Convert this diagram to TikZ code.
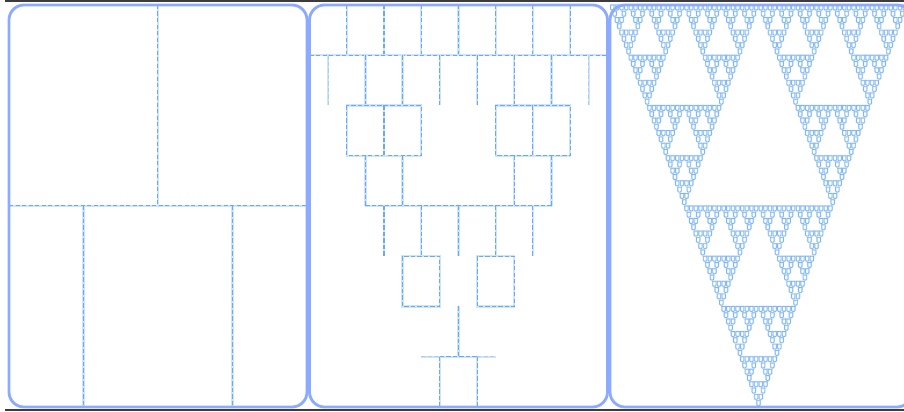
\documentclass[tikz,border=0pt]{standalone}
\usepackage{tikz}
\usetikzlibrary{positioning}
\definecolor{FrameBlue}{RGB}{140,170,255}
\definecolor{CellBlue}{RGB}{110,170,235}
\definecolor{CellPale}{RGB}{205,228,250}
\definecolor{RuleGray}{RGB}{60,60,60}
\tikzset{
  frame/.style={draw=FrameBlue,line width=1.6pt,rounded corners=0.3cm},
  cell/.style={draw=CellBlue,line width=0.6pt,dash pattern=on 2.5pt off 1.2pt,
    preaction={draw=CellPale,line width=1.3pt,solid}},
  faint/.style={cell,opacity=0.35},
  cup/.style={draw=CellBlue!85,line width=0.4pt,line join=round,rounded corners=0.6pt,
    preaction={draw=CellPale,line width=0.9pt}},
  rule/.style={draw=RuleGray,line width=0.6pt},
}
\newcommand\sierpinski[4]{% x, y, width, depth
  \ifnum#4=0\relax
    \draw[cup] (#1,#2) -- ++(#3,0) ++(-0.12*#3,0) -- ++(0,0.8*#3) -- ++(-0.76*#3,0) -- ++(0,-0.8*#3);
  \else
    \begingroup
    \pgfmathsetmacro\hw{#3/2}%
    \pgfmathsetmacro\xb{#1+#3/2}%
    \pgfmathsetmacro\xc{#1+#3/4}%
    \pgfmathsetmacro\yc{#2+#3/2}%
    \edef\next{%
      \noexpand\sierpinski{#1}{#2}{\hw}{\the\numexpr#4-1\relax}%
      \noexpand\sierpinski{\xb}{#2}{\hw}{\the\numexpr#4-1\relax}%
      \noexpand\sierpinski{\xc}{\yc}{\hw}{\the\numexpr#4-1\relax}}%
    \expandafter\endgroup\next
  \fi}

\begin{document}
\begin{tikzpicture}[x=0.02cm,y=-0.02cm]
\useasboundingbox (0,0) rectangle (904,412);
\clip (0,0) rectangle (904,412);
\draw[rule] (5,1) -- (904,1);
\draw[rule] (5,410) -- (904,410);

\begin{scope}[shift={(9,5)},x=0.3725cm,y=-1.005cm]
\draw[cell] (8,0) -- (8,4);
\draw[cell] (0,4) -- (16,4);
\draw[cell] (4,4) -- (4,8);
\draw[cell] (12,4) -- (12,8);
\end{scope}

\begin{scope}[shift={(309.5,5)},x=0.3725cm,y=-1.005cm]
\foreach \c in {2,4,...,14} \draw[cell] (\c,0) -- (\c,1);
\draw[cell] (0,1) -- (16,1);
\foreach \c in {3,5,...,13} \draw[cell] (\c,1) -- (\c,2);
\foreach \c in {1,15} \draw[faint] (\c,1) -- (\c,2);
\foreach \a in {2,10} {
  \draw[cell] (\a,2) rectangle (\a+4,3);
  \draw[cell] (\a+2,2) -- (\a+2,3);
}
\foreach \c in {3,5,11,13} \draw[cell] (\c,3) -- (\c,4);
\draw[cell] (3,4) -- (13,4);
\foreach \c in {4,6,...,12} \draw[cell] (\c,4) -- (\c,5);
\foreach \a in {5,9} \draw[cell] (\a,5) rectangle (\a+2,6);
\draw[cell] (8,6) -- (8,7);
\draw[faint] (6,7) -- (7,7) (9,7) -- (10,7);
\draw[cell] (7,7) -- (9,7);
\foreach \c in {7,9} \draw[cell] (\c,7) -- (\c,8);
\end{scope}

\begin{scope}[shift={(610,5)},x=5.94cm,y=-8.04cm]
\sierpinski{0}{0}{1}{6}
\end{scope}

\draw[frame] (9,5) rectangle (307,407);
\draw[frame] (309.5,5) rectangle (607.5,407);
\draw[frame] (610,5) rectangle (912,407);
\end{tikzpicture}
\end{document}
